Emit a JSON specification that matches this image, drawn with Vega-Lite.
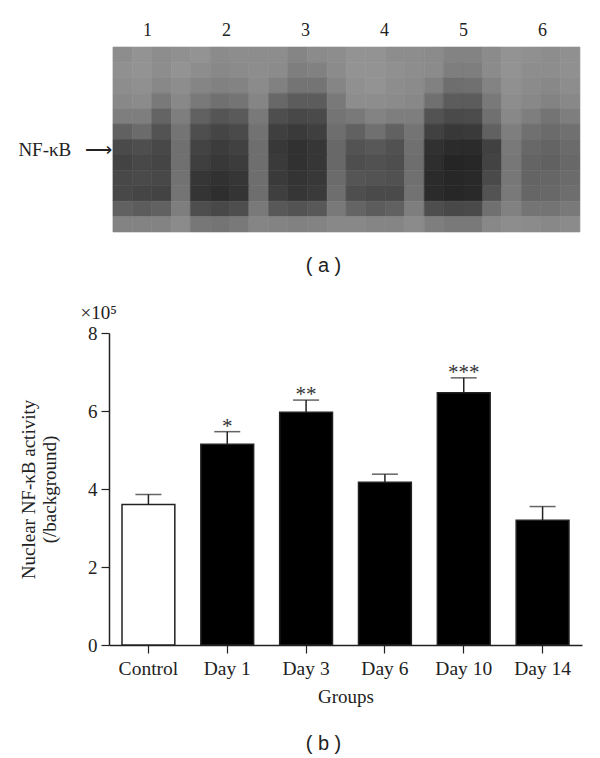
{"$schema":"https://vega.github.io/schema/vega-lite/v6.json","padding":{"left":17,"top":21,"right":17,"bottom":5},"background":"white","config":{"view":{"stroke":null},"font":"Liberation Serif"},"spacing":27,"vconcat":[{"width":473,"height":185,"title":{"text":"( a )","orient":"bottom","anchor":"middle","dx":-22,"offset":24,"font":"Liberation Sans","fontSize":20,"fontWeight":"normal","color":"#222222"},"data":{"values":[
{"x0":0.57,"x1":0.82,"y0":0,"y1":1,"g":150},{"x0":0.82,"x1":1.06,"y0":0,"y1":1,"g":155},{"x0":1.06,"x1":1.31,"y0":0,"y1":1,"g":150},{"x0":1.31,"x1":1.55,"y0":0,"y1":1,"g":152},{"x0":1.55,"x1":1.8,"y0":0,"y1":1,"g":155},{"x0":1.8,"x1":2.05,"y0":0,"y1":1,"g":148},{"x0":2.05,"x1":2.29,"y0":0,"y1":1,"g":150},{"x0":2.29,"x1":2.54,"y0":0,"y1":1,"g":150},{"x0":2.54,"x1":2.78,"y0":0,"y1":1,"g":150},{"x0":2.78,"x1":3.03,"y0":0,"y1":1,"g":142},{"x0":3.03,"x1":3.28,"y0":0,"y1":1,"g":148},{"x0":3.28,"x1":3.52,"y0":0,"y1":1,"g":150},{"x0":3.52,"x1":3.77,"y0":0,"y1":1,"g":155},{"x0":3.77,"x1":4.02,"y0":0,"y1":1,"g":155},{"x0":4.02,"x1":4.26,"y0":0,"y1":1,"g":150},{"x0":4.26,"x1":4.51,"y0":0,"y1":1,"g":150},{"x0":4.51,"x1":4.75,"y0":0,"y1":1,"g":148},{"x0":4.75,"x1":5.0,"y0":0,"y1":1,"g":140},{"x0":5.0,"x1":5.25,"y0":0,"y1":1,"g":140},{"x0":5.25,"x1":5.49,"y0":0,"y1":1,"g":148},{"x0":5.49,"x1":5.74,"y0":0,"y1":1,"g":155},{"x0":5.74,"x1":5.98,"y0":0,"y1":1,"g":152},{"x0":5.98,"x1":6.23,"y0":0,"y1":1,"g":150},{"x0":6.23,"x1":6.48,"y0":0,"y1":1,"g":152},
{"x0":0.57,"x1":0.82,"y0":1,"y1":2,"g":152},{"x0":0.82,"x1":1.06,"y0":1,"y1":2,"g":155},{"x0":1.06,"x1":1.31,"y0":1,"y1":2,"g":150},{"x0":1.31,"x1":1.55,"y0":1,"y1":2,"g":155},{"x0":1.55,"x1":1.8,"y0":1,"y1":2,"g":150},{"x0":1.8,"x1":2.05,"y0":1,"y1":2,"g":145},{"x0":2.05,"x1":2.29,"y0":1,"y1":2,"g":148},{"x0":2.29,"x1":2.54,"y0":1,"y1":2,"g":150},{"x0":2.54,"x1":2.78,"y0":1,"y1":2,"g":148},{"x0":2.78,"x1":3.03,"y0":1,"y1":2,"g":135},{"x0":3.03,"x1":3.28,"y0":1,"y1":2,"g":138},{"x0":3.28,"x1":3.52,"y0":1,"y1":2,"g":148},{"x0":3.52,"x1":3.77,"y0":1,"y1":2,"g":155},{"x0":3.77,"x1":4.02,"y0":1,"y1":2,"g":155},{"x0":4.02,"x1":4.26,"y0":1,"y1":2,"g":152},{"x0":4.26,"x1":4.51,"y0":1,"y1":2,"g":150},{"x0":4.51,"x1":4.75,"y0":1,"y1":2,"g":148},{"x0":4.75,"x1":5.0,"y0":1,"y1":2,"g":135},{"x0":5.0,"x1":5.25,"y0":1,"y1":2,"g":135},{"x0":5.25,"x1":5.49,"y0":1,"y1":2,"g":148},{"x0":5.49,"x1":5.74,"y0":1,"y1":2,"g":155},{"x0":5.74,"x1":5.98,"y0":1,"y1":2,"g":150},{"x0":5.98,"x1":6.23,"y0":1,"y1":2,"g":150},{"x0":6.23,"x1":6.48,"y0":1,"y1":2,"g":152},
{"x0":0.57,"x1":0.82,"y0":2,"y1":3,"g":150},{"x0":0.82,"x1":1.06,"y0":2,"y1":3,"g":152},{"x0":1.06,"x1":1.31,"y0":2,"y1":3,"g":145},{"x0":1.31,"x1":1.55,"y0":2,"y1":3,"g":150},{"x0":1.55,"x1":1.8,"y0":2,"y1":3,"g":142},{"x0":1.8,"x1":2.05,"y0":2,"y1":3,"g":138},{"x0":2.05,"x1":2.29,"y0":2,"y1":3,"g":140},{"x0":2.29,"x1":2.54,"y0":2,"y1":3,"g":148},{"x0":2.54,"x1":2.78,"y0":2,"y1":3,"g":138},{"x0":2.78,"x1":3.03,"y0":2,"y1":3,"g":125},{"x0":3.03,"x1":3.28,"y0":2,"y1":3,"g":125},{"x0":3.28,"x1":3.52,"y0":2,"y1":3,"g":142},{"x0":3.52,"x1":3.77,"y0":2,"y1":3,"g":152},{"x0":3.77,"x1":4.02,"y0":2,"y1":3,"g":155},{"x0":4.02,"x1":4.26,"y0":2,"y1":3,"g":150},{"x0":4.26,"x1":4.51,"y0":2,"y1":3,"g":148},{"x0":4.51,"x1":4.75,"y0":2,"y1":3,"g":138},{"x0":4.75,"x1":5.0,"y0":2,"y1":3,"g":118},{"x0":5.0,"x1":5.25,"y0":2,"y1":3,"g":120},{"x0":5.25,"x1":5.49,"y0":2,"y1":3,"g":140},{"x0":5.49,"x1":5.74,"y0":2,"y1":3,"g":152},{"x0":5.74,"x1":5.98,"y0":2,"y1":3,"g":148},{"x0":5.98,"x1":6.23,"y0":2,"y1":3,"g":145},{"x0":6.23,"x1":6.48,"y0":2,"y1":3,"g":150},
{"x0":0.57,"x1":0.82,"y0":3,"y1":4,"g":145},{"x0":0.82,"x1":1.06,"y0":3,"y1":4,"g":148},{"x0":1.06,"x1":1.31,"y0":3,"y1":4,"g":130},{"x0":1.31,"x1":1.55,"y0":3,"y1":4,"g":145},{"x0":1.55,"x1":1.8,"y0":3,"y1":4,"g":130},{"x0":1.8,"x1":2.05,"y0":3,"y1":4,"g":120},{"x0":2.05,"x1":2.29,"y0":3,"y1":4,"g":125},{"x0":2.29,"x1":2.54,"y0":3,"y1":4,"g":142},{"x0":2.54,"x1":2.78,"y0":3,"y1":4,"g":112},{"x0":2.78,"x1":3.03,"y0":3,"y1":4,"g":100},{"x0":3.03,"x1":3.28,"y0":3,"y1":4,"g":100},{"x0":3.28,"x1":3.52,"y0":3,"y1":4,"g":130},{"x0":3.52,"x1":3.77,"y0":3,"y1":4,"g":150},{"x0":3.77,"x1":4.02,"y0":3,"y1":4,"g":150},{"x0":4.02,"x1":4.26,"y0":3,"y1":4,"g":148},{"x0":4.26,"x1":4.51,"y0":3,"y1":4,"g":145},{"x0":4.51,"x1":4.75,"y0":3,"y1":4,"g":120},{"x0":4.75,"x1":5.0,"y0":3,"y1":4,"g":100},{"x0":5.0,"x1":5.25,"y0":3,"y1":4,"g":100},{"x0":5.25,"x1":5.49,"y0":3,"y1":4,"g":130},{"x0":5.49,"x1":5.74,"y0":3,"y1":4,"g":150},{"x0":5.74,"x1":5.98,"y0":3,"y1":4,"g":145},{"x0":5.98,"x1":6.23,"y0":3,"y1":4,"g":140},{"x0":6.23,"x1":6.48,"y0":3,"y1":4,"g":145},
{"x0":0.57,"x1":0.82,"y0":4,"y1":5,"g":135},{"x0":0.82,"x1":1.06,"y0":4,"y1":5,"g":135},{"x0":1.06,"x1":1.31,"y0":4,"y1":5,"g":108},{"x0":1.31,"x1":1.55,"y0":4,"y1":5,"g":135},{"x0":1.55,"x1":1.8,"y0":4,"y1":5,"g":105},{"x0":1.8,"x1":2.05,"y0":4,"y1":5,"g":92},{"x0":2.05,"x1":2.29,"y0":4,"y1":5,"g":98},{"x0":2.29,"x1":2.54,"y0":4,"y1":5,"g":130},{"x0":2.54,"x1":2.78,"y0":4,"y1":5,"g":85},{"x0":2.78,"x1":3.03,"y0":4,"y1":5,"g":78},{"x0":3.03,"x1":3.28,"y0":4,"y1":5,"g":80},{"x0":3.28,"x1":3.52,"y0":4,"y1":5,"g":125},{"x0":3.52,"x1":3.77,"y0":4,"y1":5,"g":130},{"x0":3.77,"x1":4.02,"y0":4,"y1":5,"g":140},{"x0":4.02,"x1":4.26,"y0":4,"y1":5,"g":135},{"x0":4.26,"x1":4.51,"y0":4,"y1":5,"g":135},{"x0":4.51,"x1":4.75,"y0":4,"y1":5,"g":90},{"x0":4.75,"x1":5.0,"y0":4,"y1":5,"g":80},{"x0":5.0,"x1":5.25,"y0":4,"y1":5,"g":82},{"x0":5.25,"x1":5.49,"y0":4,"y1":5,"g":120},{"x0":5.49,"x1":5.74,"y0":4,"y1":5,"g":145},{"x0":5.74,"x1":5.98,"y0":4,"y1":5,"g":135},{"x0":5.98,"x1":6.23,"y0":4,"y1":5,"g":125},{"x0":6.23,"x1":6.48,"y0":4,"y1":5,"g":135},
{"x0":0.57,"x1":0.82,"y0":5,"y1":6,"g":105},{"x0":0.82,"x1":1.06,"y0":5,"y1":6,"g":115},{"x0":1.06,"x1":1.31,"y0":5,"y1":6,"g":90},{"x0":1.31,"x1":1.55,"y0":5,"y1":6,"g":125},{"x0":1.55,"x1":1.8,"y0":5,"y1":6,"g":85},{"x0":1.8,"x1":2.05,"y0":5,"y1":6,"g":75},{"x0":2.05,"x1":2.29,"y0":5,"y1":6,"g":80},{"x0":2.29,"x1":2.54,"y0":5,"y1":6,"g":122},{"x0":2.54,"x1":2.78,"y0":5,"y1":6,"g":68},{"x0":2.78,"x1":3.03,"y0":5,"y1":6,"g":62},{"x0":3.03,"x1":3.28,"y0":5,"y1":6,"g":68},{"x0":3.28,"x1":3.52,"y0":5,"y1":6,"g":118},{"x0":3.52,"x1":3.77,"y0":5,"y1":6,"g":105},{"x0":3.77,"x1":4.02,"y0":5,"y1":6,"g":120},{"x0":4.02,"x1":4.26,"y0":5,"y1":6,"g":105},{"x0":4.26,"x1":4.51,"y0":5,"y1":6,"g":125},{"x0":4.51,"x1":4.75,"y0":5,"y1":6,"g":70},{"x0":4.75,"x1":5.0,"y0":5,"y1":6,"g":60},{"x0":5.0,"x1":5.25,"y0":5,"y1":6,"g":62},{"x0":5.25,"x1":5.49,"y0":5,"y1":6,"g":105},{"x0":5.49,"x1":5.74,"y0":5,"y1":6,"g":135},{"x0":5.74,"x1":5.98,"y0":5,"y1":6,"g":120},{"x0":5.98,"x1":6.23,"y0":5,"y1":6,"g":115},{"x0":6.23,"x1":6.48,"y0":5,"y1":6,"g":120},
{"x0":0.57,"x1":0.82,"y0":6,"y1":7,"g":80},{"x0":0.82,"x1":1.06,"y0":6,"y1":7,"g":85},{"x0":1.06,"x1":1.31,"y0":6,"y1":7,"g":78},{"x0":1.31,"x1":1.55,"y0":6,"y1":7,"g":120},{"x0":1.55,"x1":1.8,"y0":6,"y1":7,"g":72},{"x0":1.8,"x1":2.05,"y0":6,"y1":7,"g":65},{"x0":2.05,"x1":2.29,"y0":6,"y1":7,"g":70},{"x0":2.29,"x1":2.54,"y0":6,"y1":7,"g":118},{"x0":2.54,"x1":2.78,"y0":6,"y1":7,"g":60},{"x0":2.78,"x1":3.03,"y0":6,"y1":7,"g":52},{"x0":3.03,"x1":3.28,"y0":6,"y1":7,"g":58},{"x0":3.28,"x1":3.52,"y0":6,"y1":7,"g":112},{"x0":3.52,"x1":3.77,"y0":6,"y1":7,"g":90},{"x0":3.77,"x1":4.02,"y0":6,"y1":7,"g":95},{"x0":4.02,"x1":4.26,"y0":6,"y1":7,"g":88},{"x0":4.26,"x1":4.51,"y0":6,"y1":7,"g":120},{"x0":4.51,"x1":4.75,"y0":6,"y1":7,"g":52},{"x0":4.75,"x1":5.0,"y0":6,"y1":7,"g":45},{"x0":5.0,"x1":5.25,"y0":6,"y1":7,"g":45},{"x0":5.25,"x1":5.49,"y0":6,"y1":7,"g":70},{"x0":5.49,"x1":5.74,"y0":6,"y1":7,"g":130},{"x0":5.74,"x1":5.98,"y0":6,"y1":7,"g":112},{"x0":5.98,"x1":6.23,"y0":6,"y1":7,"g":108},{"x0":6.23,"x1":6.48,"y0":6,"y1":7,"g":115},
{"x0":0.57,"x1":0.82,"y0":7,"y1":8,"g":72},{"x0":0.82,"x1":1.06,"y0":7,"y1":8,"g":78},{"x0":1.06,"x1":1.31,"y0":7,"y1":8,"g":75},{"x0":1.31,"x1":1.55,"y0":7,"y1":8,"g":120},{"x0":1.55,"x1":1.8,"y0":7,"y1":8,"g":68},{"x0":1.8,"x1":2.05,"y0":7,"y1":8,"g":60},{"x0":2.05,"x1":2.29,"y0":7,"y1":8,"g":65},{"x0":2.29,"x1":2.54,"y0":7,"y1":8,"g":118},{"x0":2.54,"x1":2.78,"y0":7,"y1":8,"g":62},{"x0":2.78,"x1":3.03,"y0":7,"y1":8,"g":52},{"x0":3.03,"x1":3.28,"y0":7,"y1":8,"g":58},{"x0":3.28,"x1":3.52,"y0":7,"y1":8,"g":112},{"x0":3.52,"x1":3.77,"y0":7,"y1":8,"g":85},{"x0":3.77,"x1":4.02,"y0":7,"y1":8,"g":88},{"x0":4.02,"x1":4.26,"y0":7,"y1":8,"g":85},{"x0":4.26,"x1":4.51,"y0":7,"y1":8,"g":118},{"x0":4.51,"x1":4.75,"y0":7,"y1":8,"g":48},{"x0":4.75,"x1":5.0,"y0":7,"y1":8,"g":38},{"x0":5.0,"x1":5.25,"y0":7,"y1":8,"g":40},{"x0":5.25,"x1":5.49,"y0":7,"y1":8,"g":72},{"x0":5.49,"x1":5.74,"y0":7,"y1":8,"g":128},{"x0":5.74,"x1":5.98,"y0":7,"y1":8,"g":108},{"x0":5.98,"x1":6.23,"y0":7,"y1":8,"g":105},{"x0":6.23,"x1":6.48,"y0":7,"y1":8,"g":112},
{"x0":0.57,"x1":0.82,"y0":8,"y1":9,"g":78},{"x0":0.82,"x1":1.06,"y0":8,"y1":9,"g":80},{"x0":1.06,"x1":1.31,"y0":8,"y1":9,"g":78},{"x0":1.31,"x1":1.55,"y0":8,"y1":9,"g":122},{"x0":1.55,"x1":1.8,"y0":8,"y1":9,"g":58},{"x0":1.8,"x1":2.05,"y0":8,"y1":9,"g":52},{"x0":2.05,"x1":2.29,"y0":8,"y1":9,"g":58},{"x0":2.29,"x1":2.54,"y0":8,"y1":9,"g":118},{"x0":2.54,"x1":2.78,"y0":8,"y1":9,"g":62},{"x0":2.78,"x1":3.03,"y0":8,"y1":9,"g":55},{"x0":3.03,"x1":3.28,"y0":8,"y1":9,"g":60},{"x0":3.28,"x1":3.52,"y0":8,"y1":9,"g":115},{"x0":3.52,"x1":3.77,"y0":8,"y1":9,"g":92},{"x0":3.77,"x1":4.02,"y0":8,"y1":9,"g":90},{"x0":4.02,"x1":4.26,"y0":8,"y1":9,"g":88},{"x0":4.26,"x1":4.51,"y0":8,"y1":9,"g":120},{"x0":4.51,"x1":4.75,"y0":8,"y1":9,"g":45},{"x0":4.75,"x1":5.0,"y0":8,"y1":9,"g":40},{"x0":5.0,"x1":5.25,"y0":8,"y1":9,"g":42},{"x0":5.25,"x1":5.49,"y0":8,"y1":9,"g":80},{"x0":5.49,"x1":5.74,"y0":8,"y1":9,"g":128},{"x0":5.74,"x1":5.98,"y0":8,"y1":9,"g":108},{"x0":5.98,"x1":6.23,"y0":8,"y1":9,"g":110},{"x0":6.23,"x1":6.48,"y0":8,"y1":9,"g":115},
{"x0":0.57,"x1":0.82,"y0":9,"y1":10,"g":78},{"x0":0.82,"x1":1.06,"y0":9,"y1":10,"g":75},{"x0":1.06,"x1":1.31,"y0":9,"y1":10,"g":72},{"x0":1.31,"x1":1.55,"y0":9,"y1":10,"g":125},{"x0":1.55,"x1":1.8,"y0":9,"y1":10,"g":55},{"x0":1.8,"x1":2.05,"y0":9,"y1":10,"g":48},{"x0":2.05,"x1":2.29,"y0":9,"y1":10,"g":55},{"x0":2.29,"x1":2.54,"y0":9,"y1":10,"g":118},{"x0":2.54,"x1":2.78,"y0":9,"y1":10,"g":68},{"x0":2.78,"x1":3.03,"y0":9,"y1":10,"g":58},{"x0":3.03,"x1":3.28,"y0":9,"y1":10,"g":62},{"x0":3.28,"x1":3.52,"y0":9,"y1":10,"g":118},{"x0":3.52,"x1":3.77,"y0":9,"y1":10,"g":85},{"x0":3.77,"x1":4.02,"y0":9,"y1":10,"g":80},{"x0":4.02,"x1":4.26,"y0":9,"y1":10,"g":80},{"x0":4.26,"x1":4.51,"y0":9,"y1":10,"g":122},{"x0":4.51,"x1":4.75,"y0":9,"y1":10,"g":45},{"x0":4.75,"x1":5.0,"y0":9,"y1":10,"g":40},{"x0":5.0,"x1":5.25,"y0":9,"y1":10,"g":42},{"x0":5.25,"x1":5.49,"y0":9,"y1":10,"g":90},{"x0":5.49,"x1":5.74,"y0":9,"y1":10,"g":130},{"x0":5.74,"x1":5.98,"y0":9,"y1":10,"g":110},{"x0":5.98,"x1":6.23,"y0":9,"y1":10,"g":112},{"x0":6.23,"x1":6.48,"y0":9,"y1":10,"g":118},
{"x0":0.57,"x1":0.82,"y0":10,"y1":11,"g":105},{"x0":0.82,"x1":1.06,"y0":10,"y1":11,"g":100},{"x0":1.06,"x1":1.31,"y0":10,"y1":11,"g":105},{"x0":1.31,"x1":1.55,"y0":10,"y1":11,"g":135},{"x0":1.55,"x1":1.8,"y0":10,"y1":11,"g":85},{"x0":1.8,"x1":2.05,"y0":10,"y1":11,"g":78},{"x0":2.05,"x1":2.29,"y0":10,"y1":11,"g":85},{"x0":2.29,"x1":2.54,"y0":10,"y1":11,"g":130},{"x0":2.54,"x1":2.78,"y0":10,"y1":11,"g":95},{"x0":2.78,"x1":3.03,"y0":10,"y1":11,"g":90},{"x0":3.03,"x1":3.28,"y0":10,"y1":11,"g":95},{"x0":3.28,"x1":3.52,"y0":10,"y1":11,"g":130},{"x0":3.52,"x1":3.77,"y0":10,"y1":11,"g":108},{"x0":3.77,"x1":4.02,"y0":10,"y1":11,"g":100},{"x0":4.02,"x1":4.26,"y0":10,"y1":11,"g":105},{"x0":4.26,"x1":4.51,"y0":10,"y1":11,"g":135},{"x0":4.51,"x1":4.75,"y0":10,"y1":11,"g":85},{"x0":4.75,"x1":5.0,"y0":10,"y1":11,"g":78},{"x0":5.0,"x1":5.25,"y0":10,"y1":11,"g":80},{"x0":5.25,"x1":5.49,"y0":10,"y1":11,"g":120},{"x0":5.49,"x1":5.74,"y0":10,"y1":11,"g":138},{"x0":5.74,"x1":5.98,"y0":10,"y1":11,"g":125},{"x0":5.98,"x1":6.23,"y0":10,"y1":11,"g":125},{"x0":6.23,"x1":6.48,"y0":10,"y1":11,"g":130},
{"x0":0.57,"x1":0.82,"y0":11,"y1":12,"g":140},{"x0":0.82,"x1":1.06,"y0":11,"y1":12,"g":140},{"x0":1.06,"x1":1.31,"y0":11,"y1":12,"g":140},{"x0":1.31,"x1":1.55,"y0":11,"y1":12,"g":148},{"x0":1.55,"x1":1.8,"y0":11,"y1":12,"g":128},{"x0":1.8,"x1":2.05,"y0":11,"y1":12,"g":125},{"x0":2.05,"x1":2.29,"y0":11,"y1":12,"g":130},{"x0":2.29,"x1":2.54,"y0":11,"y1":12,"g":142},{"x0":2.54,"x1":2.78,"y0":11,"y1":12,"g":140},{"x0":2.78,"x1":3.03,"y0":11,"y1":12,"g":138},{"x0":3.03,"x1":3.28,"y0":11,"y1":12,"g":140},{"x0":3.28,"x1":3.52,"y0":11,"y1":12,"g":145},{"x0":3.52,"x1":3.77,"y0":11,"y1":12,"g":145},{"x0":3.77,"x1":4.02,"y0":11,"y1":12,"g":142},{"x0":4.02,"x1":4.26,"y0":11,"y1":12,"g":142},{"x0":4.26,"x1":4.51,"y0":11,"y1":12,"g":148},{"x0":4.51,"x1":4.75,"y0":11,"y1":12,"g":135},{"x0":4.75,"x1":5.0,"y0":11,"y1":12,"g":130},{"x0":5.0,"x1":5.25,"y0":11,"y1":12,"g":130},{"x0":5.25,"x1":5.49,"y0":11,"y1":12,"g":145},{"x0":5.49,"x1":5.74,"y0":11,"y1":12,"g":150},{"x0":5.74,"x1":5.98,"y0":11,"y1":12,"g":148},{"x0":5.98,"x1":6.23,"y0":11,"y1":12,"g":145},{"x0":6.23,"x1":6.48,"y0":11,"y1":12,"g":148}
]},"mark":{"type":"rect","strokeWidth":0.6},"encoding":{"x":{"field":"x0","type":"quantitative","scale":{"domain":[0.52,6.506],"nice":false,"zero":false},"axis":{"orient":"top","values":[1,2,3,4,5,6],"format":"d","title":null,"domain":false,"ticks":false,"grid":false,"labelFont":"Liberation Serif","labelFontSize":18,"labelColor":"#222222","labelPadding":8}},"x2":{"field":"x1"},"y":{"field":"y0","type":"quantitative","scale":{"domain":[12,0],"nice":false,"zero":false},"axis":{"values":[6.62],"labelExpr":"'NF-κB\u00a0\u00a0\u00a0⟶'","title":null,"domain":false,"ticks":false,"grid":false,"labelFont":"Liberation Serif","labelFontSize":19,"labelColor":"#222222","labelPadding":-3}},"y2":{"field":"y1"},"fill":{"field":"g","type":"quantitative","scale":{"domain":[0,255],"range":["#000000","#ffffff"]},"legend":null},"stroke":{"field":"g","type":"quantitative","scale":{"domain":[0,255],"range":["#000000","#ffffff"]},"legend":null}}},
{"width":473,"height":312,"title":{"text":"( b )","orient":"bottom","anchor":"middle","dx":-22,"offset":27,"font":"Liberation Sans","fontSize":20,"fontWeight":"normal","color":"#222222"},"data":{"values":[{"group":"Control","value":3.6,"upper":3.86,"star":"","kind":"control"},{"group":"Day 1","value":5.15,"upper":5.47,"star":"*","kind":"treated"},{"group":"Day 3","value":5.97,"upper":6.28,"star":"**","kind":"treated"},{"group":"Day 6","value":4.17,"upper":4.38,"star":"","kind":"treated"},{"group":"Day 10","value":6.47,"upper":6.85,"star":"***","kind":"treated"},{"group":"Day 14","value":3.2,"upper":3.55,"star":"","kind":"treated"}]},"encoding":{"x":{"field":"group","type":"nominal","sort":null,"scale":{"paddingInner":0.33,"paddingOuter":0.165},"axis":{"title":"Groups","labelAngle":0,"labelFont":"Liberation Serif","labelFontSize":19.5,"labelColor":"#222222","labelPadding":6,"tickSize":8,"tickColor":"#222222","domainColor":"#222222","domainWidth":1.5,"tickWidth":1.2,"titleFont":"Liberation Serif","titleFontSize":19,"titleFontWeight":"normal","titleColor":"#222222","titlePadding":10}}},"layer":[{"mark":{"type":"rule","color":"#222222","strokeWidth":1.5},"encoding":{"y":{"field":"value","type":"quantitative"},"y2":{"field":"upper"}}},{"mark":{"type":"tick","color":"#222222","size":26,"thickness":1.5},"encoding":{"y":{"field":"upper","type":"quantitative"}}},{"mark":{"type":"bar","stroke":"#222222","strokeWidth":1.5},"encoding":{"y":{"field":"value","type":"quantitative","scale":{"domain":[0,8],"nice":false},"axis":{"values":[0,2,4,6,8],"format":"d","title":["Nuclear NF-κB activity","(/background)"],"grid":false,"labelFont":"Liberation Serif","labelFontSize":19,"labelColor":"#222222","labelPadding":4,"tickSize":8,"tickColor":"#222222","domainColor":"#222222","domainWidth":1.5,"tickWidth":1.2,"titleFont":"Liberation Serif","titleFontSize":19,"titleFontWeight":"normal","titleColor":"#222222","titlePadding":28}},"fill":{"field":"kind","type":"nominal","scale":{"domain":["control","treated"],"range":["#ffffff","#000000"]},"legend":null}}},{"mark":{"type":"text","baseline":"bottom","font":"Liberation Serif","fontSize":21,"color":"#333333","dy":5},"encoding":{"y":{"field":"upper","type":"quantitative"},"text":{"field":"star"}}},{"data":{"values":[{"note":"×10⁵"}]},"mark":{"type":"text","font":"Liberation Serif","fontSize":19,"color":"#222222","align":"left","dx":-68,"dy":-20},"encoding":{"x":{"datum":"Control"},"y":{"datum":8},"text":{"field":"note"}}}]}]}
